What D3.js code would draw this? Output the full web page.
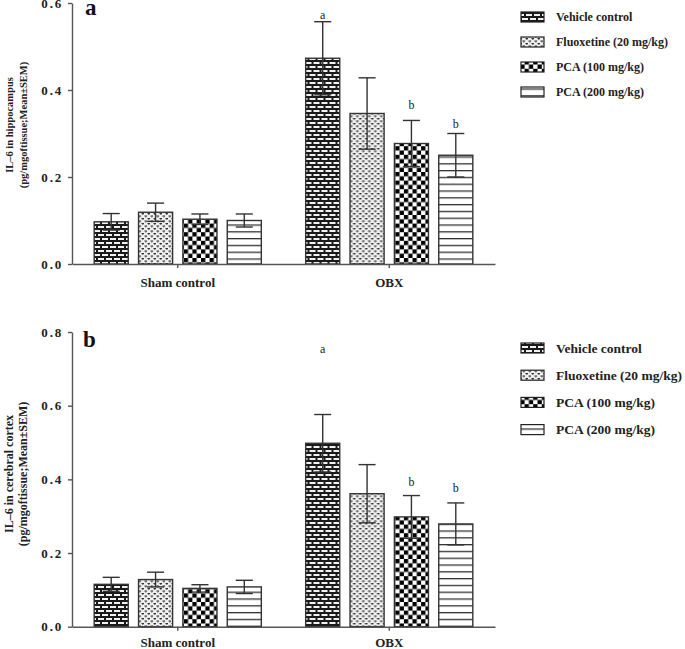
<!DOCTYPE html>
<html>
<head>
<meta charset="utf-8">
<script src="https://cdn.jsdelivr.net/npm/d3@7"></script>
<style>
  html, body { margin: 0; padding: 0; background: #fff; }
  svg { display: block; }
  text { font-family: "Liberation Serif", "Times New Roman", serif; }
</style>
</head>
<body>
<svg id="chart" width="685" height="649"></svg>
<script>
// ---------- data ----------
const groups = ["Sham control", "OBX"];
const series = ["Vehicle control", "Fluoxetine (20 mg/kg)", "PCA (100 mg/kg)", "PCA (200 mg/kg)"];

// Panel a: IL-6 in hippocampus
const hippoMeans = {
  "Sham control": [0.097, 0.119, 0.103, 0.100],
  "OBX":          [0.473, 0.346, 0.277, 0.250]
};
const hippoSEM = {
  "Sham control": [0.019, 0.021, 0.012, 0.015],
  "OBX":          [0.084, 0.082, 0.053, 0.050]
};
const hippoTicks = [0.0, 0.2, 0.4, 0.6];
// significance letters: [group, series index, letter, y-value]
const hippoSig = [["OBX", 0, "a", 0.572], ["OBX", 2, "b", 0.366], ["OBX", 3, "b", 0.322]];

// Panel b: IL-6 in cerebral cortex
const cortexMeans = {
  "Sham control": [0.115, 0.128, 0.104, 0.108],
  "OBX":          [0.498, 0.361, 0.298, 0.279]
};
const cortexSEM = {
  "Sham control": [0.019, 0.020, 0.010, 0.018],
  "OBX":          [0.078, 0.079, 0.058, 0.057]
};
const cortexTicks = [0.0, 0.2, 0.4, 0.6, 0.8];
const cortexSig = [["OBX", 0, "a", 0.755], ["OBX", 2, "b", 0.393], ["OBX", 3, "b", 0.377]];

// ---------- drawing ----------
const svg = d3.select("#chart");
svg.append("rect").attr("width", 685).attr("height", 649).attr("fill", "#fff");

const defs = svg.append("defs");
const ink = "#1a1a1a";

// brick pattern
const pBrick = defs.append("pattern").attr("id", "pat0").attr("patternUnits", "userSpaceOnUse")
  .attr("width", 8).attr("height", 8);
pBrick.append("rect").attr("width", 8).attr("height", 8).attr("fill", "#f2f2f2");
pBrick.append("rect").attr("x", 0).attr("y", 0).attr("width", 8).attr("height", 2).attr("fill", ink);
pBrick.append("rect").attr("x", 0).attr("y", 4).attr("width", 8).attr("height", 2).attr("fill", ink);
pBrick.append("rect").attr("x", 0).attr("y", 0).attr("width", 2).attr("height", 4).attr("fill", ink);
pBrick.append("rect").attr("x", 4).attr("y", 4).attr("width", 2).attr("height", 4).attr("fill", ink);

// dotted (hearts) pattern
const pDot = defs.append("pattern").attr("id", "pat1").attr("patternUnits", "userSpaceOnUse")
  .attr("width", 6).attr("height", 5);
pDot.append("rect").attr("width", 6).attr("height", 5).attr("fill", "#f0f0f0");
[[0.5, 0.5], [3.5, 3]].forEach(([px, py]) => {
  pDot.append("rect").attr("x", px).attr("y", py).attr("width", 2.6).attr("height", 1.1).attr("fill", "#333");
  pDot.append("rect").attr("x", px + 0.8).attr("y", py + 1.1).attr("width", 1).attr("height", 0.9).attr("fill", "#444");
});

// checkerboard pattern
const pChk = defs.append("pattern").attr("id", "pat2").attr("patternUnits", "userSpaceOnUse")
  .attr("width", 8.6).attr("height", 8.6);
pChk.append("rect").attr("width", 8.6).attr("height", 8.6).attr("fill", "#fff");
pChk.append("rect").attr("x", 0).attr("y", 0).attr("width", 4.3).attr("height", 4.3).attr("fill", "#000");
pChk.append("rect").attr("x", 4.3).attr("y", 4.3).attr("width", 4.3).attr("height", 4.3).attr("fill", "#000");

// horizontal lines pattern
const pLine = defs.append("pattern").attr("id", "pat3").attr("patternUnits", "userSpaceOnUse")
  .attr("width", 8).attr("height", 6.8);
pLine.append("rect").attr("width", 8).attr("height", 6.8).attr("fill", "#fff");
pLine.append("rect").attr("x", 0).attr("y", 0).attr("width", 8).attr("height", 1.3).attr("fill", "#333");

const legendPatches = ["pat0", "pat1", "pat2", "pat3"];

function drawPanel(cfg) {
  const g = svg.append("g");
  const x0 = d3.scaleBand().domain(groups).range([72, 495]).paddingInner(0).paddingOuter(0);
  const x1 = d3.scaleBand().domain(series).range([0, x0.bandwidth()])
    .paddingInner(0.232).paddingOuter(0.5);
  const maxT = cfg.ticks[cfg.ticks.length - 1];
  const y = d3.scaleLinear().domain([0, maxT]).range([cfg.y0, cfg.y1]);

  // bars
  groups.forEach(grp => {
    const gg = g.append("g").attr("transform", `translate(${x0(grp)},0)`);
    series.forEach((s, i) => {
      const v = cfg.means[grp][i];
      gg.append("rect")
        .attr("x", x1(s)).attr("y", y(v))
        .attr("width", x1.bandwidth()).attr("height", y(0) - y(v))
        .attr("fill", `url(#${legendPatches[i]})`)
        .attr("stroke", "#333").attr("stroke-width", 1.4);
    });
    // error bars
    series.forEach((s, i) => {
      const v = cfg.means[grp][i], e = cfg.sem[grp][i];
      const cx = x1(s) + x1.bandwidth() / 2;
      const cw = x1.bandwidth() / 4;
      const col = "#333";
      gg.append("line").attr("x1", cx).attr("x2", cx).attr("y1", y(v - e)).attr("y2", y(v + e))
        .attr("stroke", col).attr("stroke-width", 1.4);
      gg.append("line").attr("x1", cx - cw).attr("x2", cx + cw).attr("y1", y(v + e)).attr("y2", y(v + e))
        .attr("stroke", col).attr("stroke-width", 1.4);
      gg.append("line").attr("x1", cx - cw).attr("x2", cx + cw).attr("y1", y(v - e)).attr("y2", y(v - e))
        .attr("stroke", col).attr("stroke-width", 1.4);
    });
  });

  // significance letters
  cfg.sig.forEach(([grp, i, lab, val]) => {
    g.append("text")
      .attr("x", x0(grp) + x1(series[i]) + x1.bandwidth() / 2)
      .attr("y", y(val))
      .attr("text-anchor", "middle").attr("dominant-baseline", "central")
      .attr("font-size", 12).attr("fill", "#222")
      .text(lab);
  });

  // y axis
  const yAxis = d3.axisLeft(y).tickValues(cfg.ticks).tickFormat(d3.format(".1f"))
    .tickSize(4).tickSizeOuter(0).tickPadding(5);
  const ya = g.append("g").attr("transform", "translate(72,0)").call(yAxis);
  ya.select(".domain").attr("stroke", "#555").attr("stroke-width", 1.4);
  ya.selectAll(".tick line").attr("stroke", "#555").attr("stroke-width", 1.4);
  ya.selectAll(".tick text").attr("font-family", "Liberation Serif, serif")
    .attr("font-weight", "bold").attr("font-size", 13).attr("letter-spacing", "1.8px")
    .attr("fill", "#222");

  // x axis
  const xAxis = d3.axisBottom(x0).tickSize(4).tickSizeOuter(0).tickPadding(cfg.xPad);
  const xa = g.append("g").attr("transform", `translate(0,${y(0)})`).call(xAxis);
  xa.select(".domain").attr("stroke", "#555").attr("stroke-width", 1.4);
  xa.selectAll(".tick line").attr("stroke", "#555").attr("stroke-width", 1.4);
  xa.selectAll(".tick text").attr("font-family", "Liberation Serif, serif")
    .attr("font-weight", "bold").attr("font-size", 13).attr("fill", "#222");

  // y title
  const yt = g.append("text")
    .attr("transform", `translate(0,${cfg.titleY}) rotate(-90)`)
    .attr("text-anchor", "middle").attr("font-weight", "bold")
    .attr("font-size", cfg.titleSize).attr("fill", "#222");
  yt.append("tspan").attr("x", 0).attr("y", 13).text(cfg.title);
  yt.append("tspan").attr("x", 0).attr("y", 27).text("(pg/mgoftissue;Mean±SEM)");

  // panel letter
  g.append("text").attr("x", cfg.letterX).attr("y", cfg.letterY)
    .attr("font-size", 23).attr("font-weight", "bold").attr("fill", "#111")
    .text(cfg.letter);

  // legend
  const lg = g.append("g");
  series.forEach((s, i) => {
    const cy = cfg.legY + i * cfg.legStep;
    lg.append("rect").attr("x", 521).attr("y", cy - 5).attr("width", 23).attr("height", 10)
      .attr("fill", `url(#${legendPatches[i]})`).attr("stroke", "#222").attr("stroke-width", 1.2);
    lg.append("text").attr("x", 556).attr("y", cy).attr("dominant-baseline", "central")
      .attr("font-weight", "bold").attr("font-size", cfg.legSize).attr("fill", "#222")
      .text(s);
  });
}

drawPanel({
  means: hippoMeans, sem: hippoSEM, ticks: hippoTicks, sig: hippoSig,
  y0: 264, y1: 3, xPad: 10,
  title: "IL–6 in hippocampus", titleY: 125, titleSize: 10.5,
  letter: "a", letterX: 85, letterY: 15,
  legY: 17, legStep: 25, legSize: 12
});

drawPanel({
  means: cortexMeans, sem: cortexSEM, ticks: cortexTicks, sig: cortexSig,
  y0: 626.7, y1: 332, xPad: 7,
  title: "IL–6 in cerebral cortex", titleY: 474, titleSize: 12,
  letter: "b", letterX: 83, letterY: 347,
  legY: 348, legStep: 27.2, legSize: 13.5
});
</script>
</body>
</html>
